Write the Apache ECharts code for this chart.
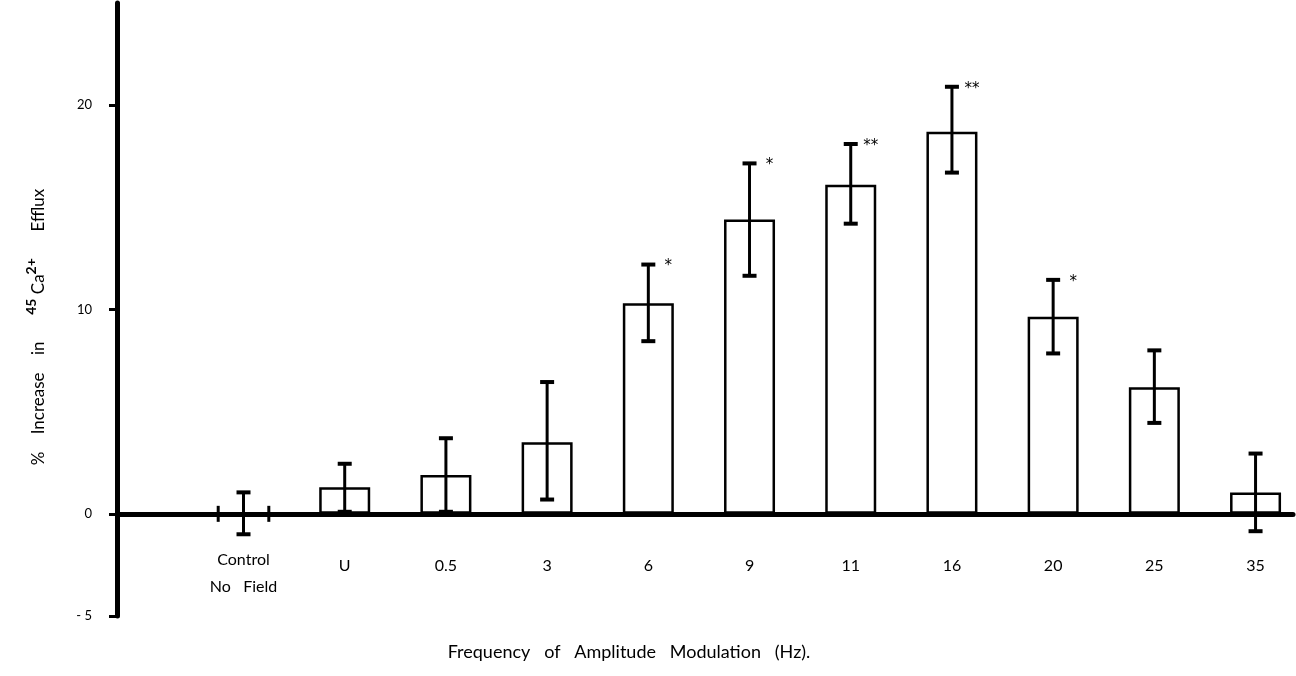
<!DOCTYPE html>
<html>
<head>
<meta charset="utf-8">
<script src="https://cdn.jsdelivr.net/npm/echarts@6/dist/echarts.min.js"></script>
<style>
  html, body { margin: 0; padding: 0; background: #fff; }
  #chart { width: 1296px; height: 676px; }
</style>
</head>
<body>
<div id="chart"></div>
<script>
// Categories along the x axis (modulation frequency, Hz)
const categories = ['Control\nNo Field', 'U', '0.5', '3', '6', '9', '11', '16', '20', '25', '35']
// Mean % increase in efflux
const means = [0, 1.3, 1.9, 3.5, 10.3, 14.4, 16.1, 18.7, 9.65, 6.2, 1.05]
// Whisker ends (lower / upper)
const errLow = [-1.0, 0.1, 0.1, 0.7, 8.45, 11.65, 14.2, 16.7, 7.85, 4.45, -0.85]
const errHigh = [1.05, 2.45, 3.7, 6.45, 12.2, 17.15, 18.1, 20.9, 11.45, 8.0, 2.95]
// Significance marks
const stars = ['', '', '', '', '*', '*', '**', '**', '*', '', '']
// Y axis tick values
const yTicks = [-5, 0, 10, 20]

const FONT = 'Lato'

const chart = echarts.init(document.getElementById('chart'), null, { renderer: 'canvas' })

function renderErr(params, api) {
  const i = api.value(0)
  const lo = api.coord([i, api.value(1)])
  const hi = api.coord([i, api.value(2)])
  const x = lo[0]
  const cap = 7
  const children = [
    { type: 'line', shape: { x1: x, y1: lo[1], x2: x, y2: hi[1] }, style: { stroke: '#000', lineWidth: 3 } },
    { type: 'line', shape: { x1: x - cap, y1: lo[1], x2: x + cap, y2: lo[1] }, style: { stroke: '#000', lineWidth: 4 } },
    { type: 'line', shape: { x1: x - cap, y1: hi[1], x2: x + cap, y2: hi[1] }, style: { stroke: '#000', lineWidth: 4 } },
  ]
  const s = stars[params.dataIndex]
  if (s) {
    children.push({
      type: 'text',
      style: { x: x + 20, y: hi[1] + 2, text: s, fill: '#000', font: '15px "DejaVu Sans"', align: 'center', verticalAlign: 'middle' },
    })
  }
  // zero-height bar: only its edges show as ticks on the baseline
  if (means[params.dataIndex] === 0) {
    const base = api.coord([i, 0])
    const half = api.size([1, 0])[0] * 0.25
    children.push(
      { type: 'line', shape: { x1: x - half, y1: base[1] - 8, x2: x - half, y2: base[1] + 8 }, style: { stroke: '#000', lineWidth: 3 } },
      { type: 'line', shape: { x1: x + half, y1: base[1] - 8, x2: x + half, y2: base[1] + 8 }, style: { stroke: '#000', lineWidth: 3 } },
    )
  }
  return { type: 'group', children }
}

const option = {
  backgroundColor: '#fff',
  animation: false,
  textStyle: { fontFamily: FONT, color: '#000' },
  grid: { left: 117, right: 3, top: 3, bottom: 60, containLabel: false, outerBoundsMode: 'none' },
  xAxis: {
    type: 'value',
    min: -1.25,
    max: 10.37,
    z: 5,
    splitLine: { show: false },
    axisTick: { show: false },
    axisLine: { onZero: true, lineStyle: { color: '#000', width: 5 } },
    axisLabel: {
      customValues: categories.map((c, i) => i),
      margin: -70,
      color: '#000',
      fontSize: 16,
      lineHeight: 27,
      formatter: v => {
        const c = categories[v]
        return c.includes('\n') ? c.replace('No Field', 'No   Field') : '{s|' + c + '}'
      },
      rich: { s: { fontSize: 16, padding: [12, 0, 0, 0], color: '#000' } },
    },
  },
  yAxis: {
    type: 'value',
    min: -5,
    max: 25,
    z: 5,
    splitLine: { show: false },
    axisLine: { show: true, onZero: false, lineStyle: { color: '#000', width: 5 } },
    axisTick: { show: true, customValues: yTicks, length: 8, lineStyle: { color: '#000', width: 3 } },
    axisLabel: {
      customValues: yTicks,
      margin: 25,
      color: '#000',
      fontSize: 13,
      formatter: v => (v < 0 ? '- ' + Math.abs(v) : String(v)),
    },
  },
  graphic: [
    {
      type: 'text',
      x: 629,
      y: 652,
      style: {
        text: 'Frequency   of   Amplitude   Modulation   (Hz).',
        font: '18px ' + FONT,
        fill: '#000',
        align: 'center',
        verticalAlign: 'middle',
      },
    },
    {
      type: 'text',
      x: 39,
      y: 327,
      rotation: Math.PI / 2,
      style: {
        text: '{n|%    Increase    in}        {sup|45}{n| Ca}{sup|2+}        {n|Efflux}',
        align: 'center',
        verticalAlign: 'middle',
        fill: '#000',
        rich: {
          n: { fontFamily: FONT, fontSize: 17, lineHeight: 30, verticalAlign: 'middle', fill: '#000' },
          sup: { fontFamily: FONT, fontSize: 14, fontWeight: 'bold', verticalAlign: 'top', fill: '#000' },
        },
      },
    },
  ],
  series: [
    {
      type: 'bar',
      data: means.map((v, i) => [i, v]),
      barWidth: 51,
      itemStyle: { color: '#fff', borderColor: '#000', borderWidth: 2.5 },
    },
    {
      type: 'custom',
      renderItem: renderErr,
      data: means.map((v, i) => [i, errLow[i], errHigh[i]]),
      z: 6,
    },
  ],
}

chart.setOption(option)
</script>
</body>
</html>
